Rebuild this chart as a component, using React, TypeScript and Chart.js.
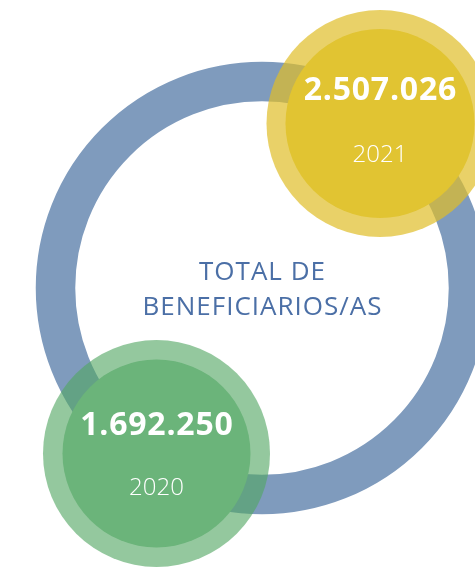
import React, { useEffect, useRef } from "react";
import { Chart, registerables, BubbleController } from "chart.js";

Chart.register(...registerables);

// A bubble controller that does not shrink the chart area to fit its bubbles,
// so the hidden linear scales map 1:1 to canvas pixels.
class InfoBubbleController extends (BubbleController as any) {
  static id = "infobubble";
  static defaults = (BubbleController as any).defaults;
  static overrides = (BubbleController as any).overrides;
  getMaxOverflow() {
    return false;
  }
}
Chart.register(InfoBubbleController as any);

// ---- data ----
const years: string[] = ["2021", "2020"];
const beneficiaries: number[] = [2507026, 1692250];
const centerTitle: string[] = ["TOTAL DE", "BENEFICIARIOS/AS"];

// ---- layout (pixel-space units of the hidden linear scales) ----
const W = 475;
const H = 568;
const RING = { x: 262, y: 288, r: 206.5, width: 39.5, line1: 280, line2: 315 };
const BUBBLES = [
  { x: 380, y: 123.5, outer: 113.5, inner: 94.5, valueY: 100, yearY: 162, outerColor: "rgba(224,190,40,0.70)", innerColor: "#e1c432" },
  { x: 156.5, y: 453.5, outer: 113.5, inner: 94, valueY: 435, yearY: 495, outerColor: "rgba(82,166,98,0.62)", innerColor: "#6bb47a" },
];

const fmt = (n: number) => String(n).replace(/\B(?=(\d{3})+(?!\d))/g, ".");
const FONT = "'Open Sans', 'Noto Sans', sans-serif";

export default function App() {
  const ref = useRef<HTMLCanvasElement | null>(null);

  useEffect(() => {
    document.body.style.margin = "0";
    const canvas = ref.current;
    if (!canvas) return;

    const textPlugin = {
      id: "infoText",
      afterDatasetsDraw(chart: any) {
        const ctx = chart.ctx;
        const xs = chart.scales.x;
        const ys = chart.scales.y;
        ctx.save();
        ctx.textAlign = "center";
        ctx.textBaseline = "alphabetic";
        ctx.fillStyle = "#4b6fa6";
        ctx.font = `400 26px ${FONT}`;
        (ctx as any).letterSpacing = "1px";
        const cx = xs.getPixelForValue(RING.x) + 0.5;
        ctx.fillText(centerTitle[0], cx, ys.getPixelForValue(RING.line1));
        ctx.fillText(centerTitle[1], cx, ys.getPixelForValue(RING.line2));
        BUBBLES.forEach((b, i) => {
          const bx = xs.getPixelForValue(b.x);
          ctx.fillStyle = "#ffffff";
          ctx.font = `700 32px ${FONT}`;
          (ctx as any).letterSpacing = "0.8px";
          ctx.fillText(fmt(beneficiaries[i]), bx + 0.4, ys.getPixelForValue(b.valueY));
          ctx.font = `300 24px ${FONT}`;
          (ctx as any).letterSpacing = "0px";
          ctx.fillText(years[i], bx, ys.getPixelForValue(b.yearY));
        });
        ctx.restore();
      },
    };

    const chart = new Chart(canvas, {
      type: "infobubble" as any,
      data: {
        datasets: [
          {
            label: "ring",
            order: 3,
            clip: false as any,
            data: [{ x: RING.x, y: RING.y, r: RING.r }],
            backgroundColor: "rgba(0,0,0,0)",
            borderColor: "#7f9bbd",
            borderWidth: RING.width,
          },
          {
            label: "outer",
            order: 2,
            clip: false as any,
            data: BUBBLES.map((b) => ({ x: b.x, y: b.y, r: b.outer })),
            backgroundColor: BUBBLES.map((b) => b.outerColor),
            borderWidth: 0,
          },
          {
            label: "Beneficiarios/as",
            order: 1,
            clip: false as any,
            data: BUBBLES.map((b, i) => ({ x: b.x, y: b.y, r: b.inner, v: beneficiaries[i] })),
            backgroundColor: BUBBLES.map((b) => b.innerColor),
            borderWidth: 0,
          },
        ],
      },
      options: {
        animation: false,
        responsive: false,
        maintainAspectRatio: false,
        layout: { padding: 0 },
        events: [],
        plugins: { legend: { display: false }, tooltip: { enabled: false } },
        scales: {
          x: { type: "linear", min: 0, max: W, display: false },
          y: { type: "linear", min: 0, max: H, reverse: true, display: false },
        },
      },
      plugins: [textPlugin],
    } as any);
    return () => chart.destroy();
  }, []);

  return (
    <div style={{ width: W, height: H, background: "#ffffff" }}>
      <canvas ref={ref} width={W} height={H} style={{ display: "block", width: W, height: H }} />
    </div>
  );
}
